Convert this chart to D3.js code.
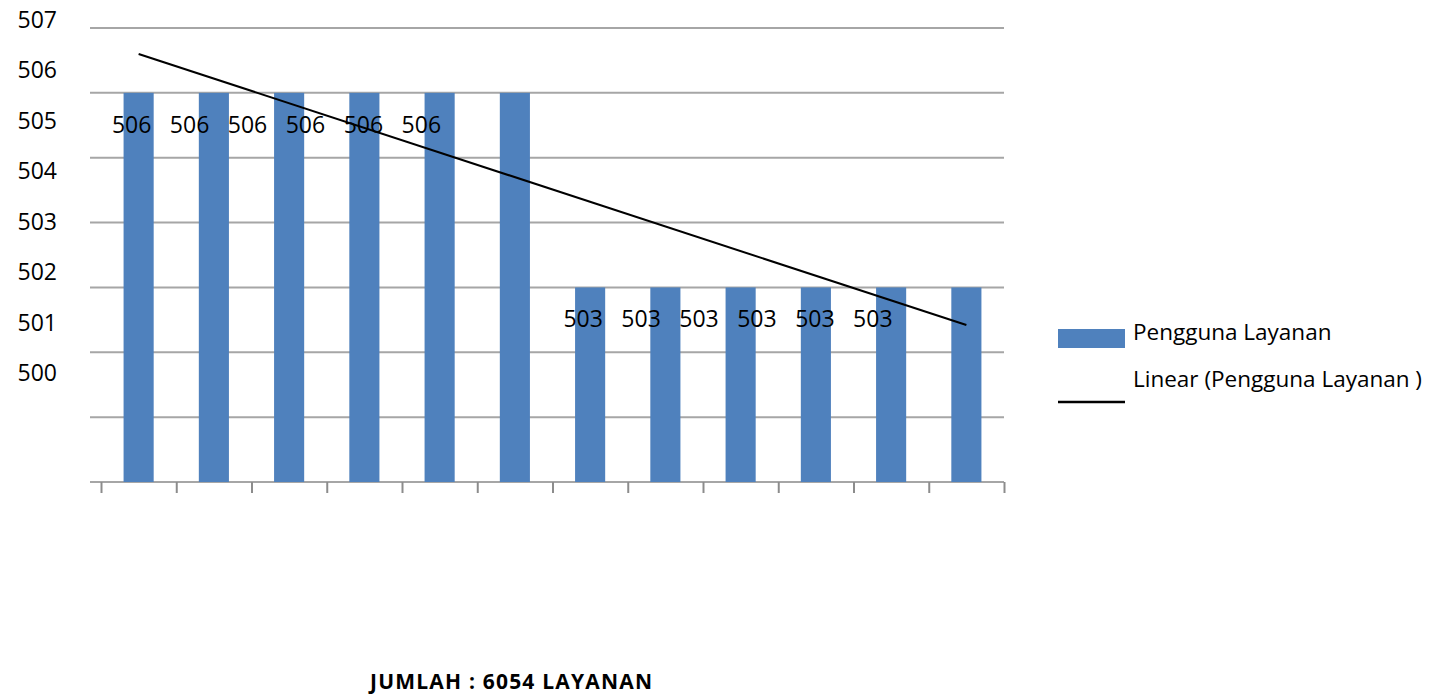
<!DOCTYPE html>
<html>
<head>
<meta charset="utf-8">
<script src="https://cdn.jsdelivr.net/npm/d3@7"></script>
<style>
  body { margin: 0; background: #fff; }
  text { font-family: "Open Sans", sans-serif; fill: #000; }
</style>
</head>
<body>
<svg id="chart" width="1435" height="696"></svg>
<script>
// data
const categories = ['1', '2', '3', '4', '5', '6', '7', '8', '9', '10', '11', '12'];
const values = [506, 506, 506, 506, 506, 506, 503, 503, 503, 503, 503, 503];
const yTicks = [500, 501, 502, 503, 504, 505, 506, 507];
const trendValues = [506.6, 502.42]; // linear trend at first and last category
const seriesName = 'Pengguna Layanan';
const trendName = 'Linear (Pengguna Layanan )';
const total = d3.sum(values);

const svg = d3.select('#chart');
const blue = '#4f81bd';
const grid = '#a6a6a6';

const xScale = d3.scaleBand()
    .domain(categories)
    .range([101, 1004])
    .paddingInner(0.6)
    .paddingOuter(0.3);
const xEdge = d3.scaleLinear().domain([0, categories.length]).range([101, 1004]);

// gridlines and the value labels do not share positions in the original
const yScale = d3.scaleLinear().domain([500, 507]).range([482, 28]);
const yLabel = d3.scaleLinear().domain([500, 507]).range([373, 19.5]);

// gridlines (the lowest one is the category axis line)
svg.append('g')
    .selectAll('line')
    .data(yTicks)
    .enter().append('line')
    .attr('x1', 90)
    .attr('x2', 1004)
    .attr('y1', d => yScale(d))
    .attr('y2', d => yScale(d))
    .attr('stroke', grid)
    .attr('stroke-width', 2);

// y labels
svg.append('g')
    .selectAll('text')
    .data(yTicks)
    .enter().append('text')
    .attr('x', 57)
    .attr('y', d => yLabel(d))
    .attr('dy', '0.35em')
    .attr('text-anchor', 'end')
    .style('font-size', '23px')
    .text(d => d);

// bars
svg.append('g')
    .selectAll('rect')
    .data(values)
    .enter().append('rect')
    .attr('x', (d, i) => xScale(categories[i]))
    .attr('y', d => yScale(d))
    .attr('width', xScale.bandwidth())
    .attr('height', d => yScale(500) - yScale(d))
    .attr('fill', blue);

// x ticks at category boundaries
const xAxis = d3.axisBottom(xEdge)
    .tickValues(d3.range(categories.length + 1))
    .tickFormat('')
    .tickSize(11);
const gx = svg.append('g')
    .attr('transform', `translate(0, ${yScale(500)})`)
    .call(xAxis);
gx.select('.domain').remove();
gx.selectAll('line').attr('stroke', '#8c8c8c').attr('stroke-width', 2);

// data labels (each group of six, spaced tighter than the bars)
const labelStep = xScale.step() * 0.77;
svg.append('g')
    .selectAll('text')
    .data(values.map((v, i) => {
        const first = values.indexOf(v);
        return { v, x: xScale(categories[first]) + xScale.bandwidth() / 2 - 7 + (i - first) * labelStep };
    }))
    .enter().append('text')
    .attr('x', d => d.x)
    .attr('y', d => yScale(d.v) + 32)
    .attr('dy', '0.35em')
    .attr('text-anchor', 'middle')
    .style('font-size', '23px')
    .text(d => d.v);

// linear trend
const line = d3.line()
    .x(d => d[0])
    .y(d => yScale(d[1]));
svg.append('path')
    .datum([
        [xScale(categories[0]) + xScale.bandwidth() / 2, trendValues[0]],
        [xScale(categories[categories.length - 1]) + xScale.bandwidth() / 2, trendValues[1]]
    ])
    .attr('d', line)
    .attr('fill', 'none')
    .attr('stroke', '#000')
    .attr('stroke-width', 2);

// legend
const legend = svg.append('g');
legend.append('rect')
    .attr('x', 1058).attr('y', 329)
    .attr('width', 67).attr('height', 19)
    .attr('fill', blue);
legend.append('text')
    .attr('x', 1133).attr('y', 340)
    .style('font-size', '22.5px')
    .text(seriesName);
legend.append('line')
    .attr('x1', 1058).attr('x2', 1125)
    .attr('y1', 402).attr('y2', 402)
    .attr('stroke', '#000')
    .attr('stroke-width', 2.5);
legend.append('text')
    .attr('x', 1133).attr('y', 387)
    .style('font-size', '22.5px')
    .text(trendName);

// total caption
svg.append('text')
    .attr('x', 511)
    .attr('y', 689)
    .attr('text-anchor', 'middle')
    .style('font-size', '21px')
    .style('font-weight', 'bold')
    .attr('textLength', 282)
    .attr('lengthAdjust', 'spacing')
    .text(`JUMLAH : ${total} LAYANAN`);
</script>
</body>
</html>
